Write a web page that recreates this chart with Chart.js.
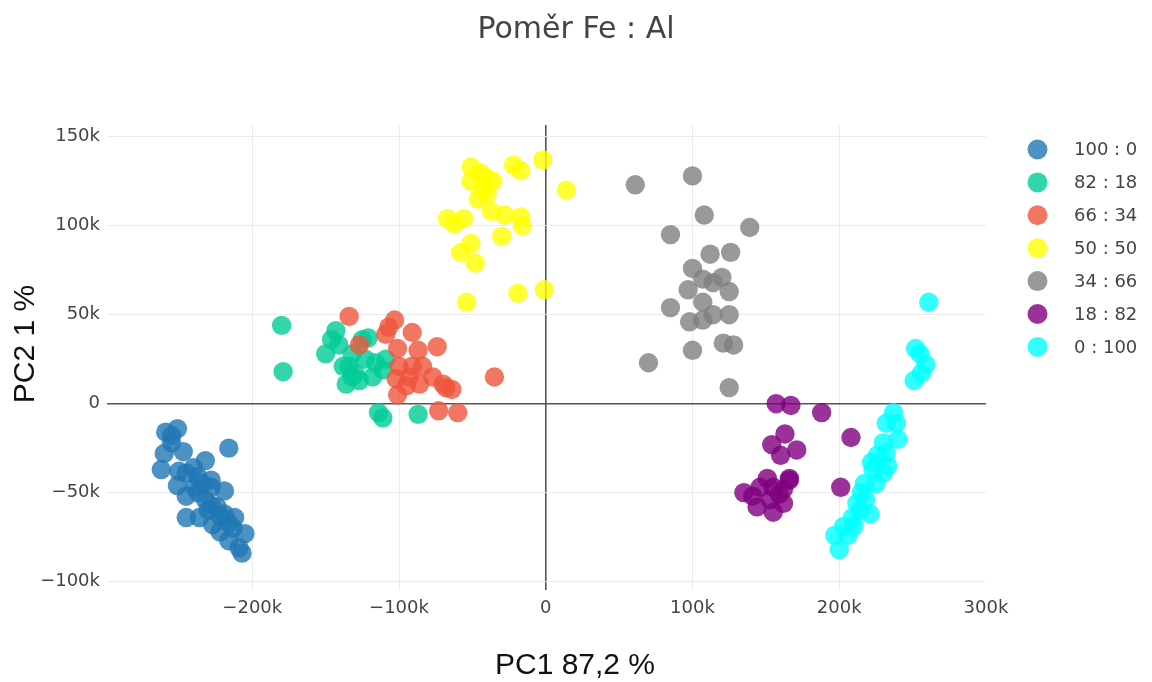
<!DOCTYPE html>
<html>
<head>
<meta charset="utf-8">
<title>Poměr Fe : Al</title>
<script src="https://cdn.jsdelivr.net/npm/chart.js@4.4.1/dist/chart.umd.min.js"></script>
<style>
  html, body { margin: 0; padding: 0; background: #fff; }
  #wrap { position: relative; width: 1152px; height: 682px; }
</style>
</head>
<body>
<div id="wrap"><canvas id="pca"></canvas></div>
<script>
// PCA scores (thousands), one array of [PC1, PC2] per Fe : Al ratio
const ratioLabels = ["100 : 0", "82 : 18", "66 : 34", "50 : 50", "34 : 66", "18 : 82", "0 : 100"];
const ratioColors = [
  "rgba(31, 119, 180, 0.8)",
  "rgba(0, 204, 150, 0.8)",
  "rgba(239, 85, 59, 0.8)",
  "rgba(255, 255, 0, 0.8)",
  "rgba(128, 128, 128, 0.8)",
  "rgba(128, 0, 128, 0.8)",
  "rgba(0, 255, 255, 0.8)",
];

const fe100 = [
  [-251, -14], [-259, -16], [-255, -18], [-216, -25], [-260, -28], [-247, -27],
  [-255, -22], [-262, -37], [-232, -32], [-250, -38], [-245, -39], [-237, -41],
  [-228, -43], [-219, -49], [-251, -46], [-239, -47], [-245, -52], [-232, -54],
  [-237, -50], [-228, -57], [-245, -64], [-236, -64], [-219, -62], [-212, -64],
  [-227, -68], [-216, -67], [-222, -72], [-216, -77], [-205, -73], [-207, -84],
  [-209, -81], [-230, -60], [-224, -58], [-240, -36], [-234, -45], [-228, -47],
  [-222, -63], [-213, -70],
];
const fe82 = [
  [-180, 44], [-179, 18], [-143, 41], [-146, 36], [-150, 28], [-141, 33],
  [-132, 28], [-134, 21], [-136, 11], [-125, 36], [-121, 37], [-123, 25],
  [-116, 23], [-118, 15], [-127, 13], [-130, 17], [-111, 19], [-109, 25],
  [-114, -5], [-111, -8], [-87, -6], [-138, 21], [-132, 15],
];
const fe66 = [
  [-134, 49], [-127, 33], [-103, 47], [-107, 43], [-109, 39], [-91, 40],
  [-101, 31], [-87, 30], [-74, 32], [-100, 21], [-91, 21], [-84, 21],
  [-77, 15], [-102, 14], [-95, 10], [-86, 11], [-70, 11], [-64, 8],
  [-68, 9], [-101, 5], [-35, 15], [-73, -4], [-60, -5], [-93, 15],
];
const fe50 = [
  [-2, 137], [-51, 133], [-45, 130], [-22, 134], [-17, 131], [-41, 127],
  [-36, 125], [-51, 125], [-40, 118], [-46, 115], [-37, 108], [-28, 106],
  [-17, 105], [-16, 100], [-67, 104], [-62, 101], [-56, 104], [-30, 94],
  [-51, 90], [-58, 85], [-48, 79], [-19, 62], [-1, 64], [-54, 57],
  [14, 120], [-43, 121],
];
const fe34 = [
  [61, 123], [100, 128], [108, 106], [85, 95], [139, 99], [126, 85],
  [112, 84], [100, 76], [107, 70], [120, 71], [114, 68], [125, 63],
  [97, 64], [107, 57], [85, 54], [125, 50], [114, 50], [107, 47],
  [98, 46], [121, 34], [128, 33], [100, 30], [70, 23], [125, 9],
];
const fe18 = [
  [157, 0], [167, -1], [188, -5], [208, -19], [163, -17], [154, -23],
  [171, -26], [160, -29], [201, -47], [151, -42], [166, -42], [135, -50],
  [141, -52], [155, -47], [162, -48], [146, -47], [144, -58], [155, -61],
  [153, -54], [162, -56], [159, -51], [166, -43],
];
const fe0 = [
  [261, 57], [252, 31], [255, 28], [259, 22], [251, 13], [256, 17],
  [237, -5], [239, -11], [232, -11], [240, -20], [230, -22], [232, -28],
  [222, -33], [230, -39], [225, -45], [217, -45], [215, -50], [221, -62],
  [212, -56], [209, -64], [203, -69], [197, -74], [200, -82], [210, -69],
  [218, -54], [223, -37], [233, -35], [226, -29], [206, -74], [214, -60],
];
const ratioScores = [fe100, fe82, fe66, fe50, fe34, fe18, fe0];

const xTicks = [-200, -100, 0, 100, 200, 300];
const yTicks = [-100, -50, 0, 50, 100, 150];
const xTitle = "PC1 87,2 %";
const yTitle = "PC2 1 %";

const kLabel = (v) => (v === 0 ? "0" : (v < 0 ? "\u2212" : "") + Math.abs(v) + "k");

// legend on the right + axis titles centred on the whole figure
const sideLegend = {
  id: "sideLegend",
  afterDraw(chart) {
    const { ctx, chartArea, width, height } = chart;
    ctx.save();
    ctx.font = "18px 'DejaVu Sans'";
    ctx.textBaseline = "middle";
    chart.data.datasets.forEach((ds, i) => {
      const y = chartArea.top + 24.5 + i * 32.9;
      ctx.beginPath();
      ctx.arc(chartArea.right + 51.5, y, 10, 0, Math.PI * 2);
      ctx.fillStyle = ds.backgroundColor;
      ctx.fill();
      ctx.fillStyle = "#444";
      ctx.fillText(ds.label, chartArea.right + 88, y + 1);
    });

    ctx.fillStyle = "#111";
    ctx.font = "30px 'Liberation Sans'";
    ctx.textAlign = "center";
    ctx.fillText(xTitle, width / 2 - 1, height - 16);
    ctx.translate(26, height / 2 + 3);
    ctx.rotate(-Math.PI / 2);
    ctx.fillText(yTitle, 0, 0);
    ctx.restore();
  },
};

const gridColor = (ctx) => {
  const v = ctx.tick ? ctx.tick.value : null;
  if (v === 0) return "#555";
  if (v === 300) return "rgba(0,0,0,0)";
  return "#ebebeb";
};
const gridWidth = (ctx) => (ctx.tick && ctx.tick.value === 0 ? 1.6 : 1);

new Chart(document.getElementById("pca"), {
  type: "scatter",
  data: {
    datasets: ratioScores.map((pts, i) => ({
      label: ratioLabels[i],
      data: pts,
      backgroundColor: ratioColors[i],
      borderWidth: 0,
      pointRadius: 9.7,
      pointHoverRadius: 9.7,
      order: ratioScores.length - i,
    })),
  },
  options: {
    responsive: true,
    maintainAspectRatio: false,
    animation: false,
    events: [],
    layout: { padding: 0 },
    plugins: {
      legend: { display: false },
      tooltip: { enabled: false },
      title: {
        display: true,
        text: "Poměr Fe : Al",
        color: "#444",
        font: { family: "'DejaVu Sans'", size: 30, weight: "normal", lineHeight: 1.2 },
        padding: { top: 12, bottom: 77 },
      },
    },
    scales: {
      x: {
        type: "linear",
        min: -299,
        max: 300,
        afterFit: (scale) => { scale.height = 92; },
        afterBuildTicks: (scale) => { scale.ticks = xTicks.map((value) => ({ value })); },
        border: { display: false },
        grid: { color: gridColor, lineWidth: gridWidth, drawTicks: false },
        ticks: {
          padding: 8,
          maxRotation: 0,
          color: "#444",
          font: { family: "'DejaVu Sans'", size: 18 },
          callback: kLabel,
        },
      },
      y: {
        type: "linear",
        min: -104.7,
        max: 156.6,
        afterFit: (scale) => { scale.width = 107; },
        afterBuildTicks: (scale) => { scale.ticks = yTicks.map((value) => ({ value })); },
        border: { display: false },
        grid: { color: gridColor, lineWidth: gridWidth, drawTicks: false },
        ticks: {
          padding: 7,
          color: "#444",
          font: { family: "'DejaVu Sans'", size: 18 },
          callback: kLabel,
        },
      },
      // empty axis keeping room for the legend on the right
      legendSpace: {
        type: "linear",
        position: "right",
        afterFit: (scale) => { scale.width = 166; },
        border: { display: false },
        grid: { display: false },
        ticks: { display: false },
      },
    },
  },
  plugins: [sideLegend],
});
</script>
</body>
</html>
